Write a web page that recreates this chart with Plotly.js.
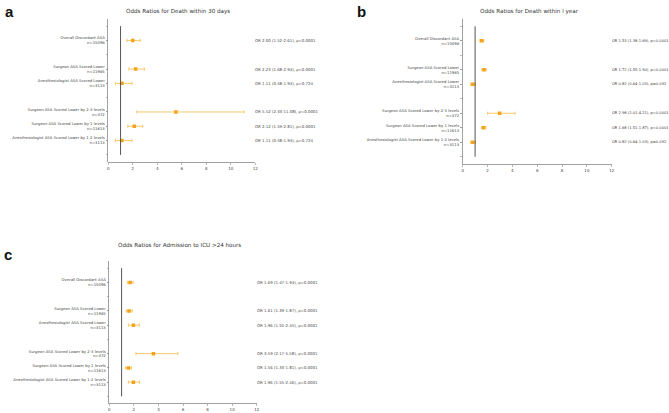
<!DOCTYPE html>
<html>
<head>
<meta charset="utf-8">
<script src="https://cdn.plot.ly/plotly-3.0.1.min.js"></script>
<style>html,body{margin:0;padding:0;background:#fff;}#chart{width:669px;height:413px;}</style>
</head>
<body>
<div id="chart"></div>
<script>
// ---- Data ----
const categories = [
  "Overall Discordant ASA",
  "Surgeon ASA Scored Lower",
  "Anesthesiologist ASA Scored Lower",
  "Surgeon ASA Scored Lower by 2-3 levels",
  "Surgeon ASA Scored Lower by 1 levels",
  "Anesthesiologist ASA Scored Lower by 1-2 levels"
];
const nCounts = [15098, 11985, 3113, 372, 11613, 3113];
// group membership of each category (groups separated by an empty row)
const groupOf = [0, 1, 1, 2, 2, 2];

const titles = [
  "Odds Ratios for Death within 30 days",
  "Odds Ratios for Death within l year",
  "Odds Ratios for Admission to ICU >24 hours"
];
const panelLetters = ["a", "b", "c"];

const orA = [2.00, 2.23, 1.11, 5.52, 2.12, 1.11];
const loA = [1.52, 1.68, 0.58, 2.33, 1.59, 0.58];
const hiA = [2.61, 2.94, 1.94, 11.08, 2.81, 1.94];
const pA  = ["<0.0001", "<0.0001", "=0.724", "<0.0001", "<0.0001", "=0.724"];

const orB = [1.53, 1.72, 0.82, 2.98, 1.68, 0.82];
const loB = [1.38, 1.55, 0.64, 2.01, 1.51, 0.64];
const hiB = [1.69, 1.90, 1.03, 4.21, 1.87, 1.03];
const pB  = ["<0.0001", "<0.0001", "=0.092", "<0.0001", "<0.0001", "=0.092"];

const orC = [1.69, 1.61, 1.96, 3.59, 1.56, 1.96];
const loC = [1.47, 1.39, 1.55, 2.17, 1.33, 1.55];
const hiC = [1.94, 1.87, 2.45, 5.58, 1.81, 2.46];
const pC  = ["<0.0001", "<0.0001", "<0.0001", "<0.0001", "<0.0001", "<0.0001"];

const xTicks = [0, 2, 4, 6, 8, 10, 12];
const refValue = 1;

// ---- Build ----
const labels = categories.map((c, i) => c + "<br>n=" + nCounts[i]);
// row index of each category: one row per item plus an empty row between groups
const rows = categories.map((c, i) => i + groupOf[i]);
const lastRow = rows[rows.length - 1];

const panels = [
  {or: orA, lo: loA, hi: hiA, p: pA, fs: 3.9, xa: "x", ya: "y", xd: [0.1619, 0.3816], yd: [0.6077, 0.954], tx: 0.266, ty: 0.973, lx: 0.004, ly: 0.997},
  {or: orB, lo: loB, hi: hiB, p: pB, fs: 3.65, xa: "x2", ya: "y2", xd: [0.6916, 0.9144], yd: [0.6029, 0.954], tx: 0.792, ty: 0.971, lx: 0.531, ly: 0.997},
  {or: orC, lo: loC, hi: hiC, p: pC, fs: 3.9, xa: "x3", ya: "y3", xd: [0.1634, 0.3837], yd: [0.023, 0.368], tx: 0.269, ty: 0.407, lx: 0.003, ly: 0.41}
];

const FONT = "DejaVu Sans, Arial, sans-serif";
const traces = [];
const shapes = [];
const annotations = [];
const layout = {
  width: 669, height: 413,
  margin: {l: 0, r: 0, t: 0, b: 0},
  paper_bgcolor: "#fff", plot_bgcolor: "#fff",
  showlegend: false,
  font: {family: FONT, size: 4, color: "#444"}
};

function esc(s) { return s.replace(/</g, "&lt;").replace(/>/g, "&gt;"); }

panels.forEach((P, k) => {
  traces.push({
    type: "scatter", mode: "markers",
    x: P.or, y: rows,
    xaxis: P.xa, yaxis: P.ya,
    marker: {color: "#f5a31a", size: 3.5, symbol: "square"},
    error_x: {type: "data", symmetric: false,
      array: P.hi.map((h, i) => h - P.or[i]),
      arrayminus: P.lo.map((l, i) => P.or[i] - l),
      color: "#f7c35a", thickness: 0.9, width: 1.6},
    hoverinfo: "skip"
  });
  const sfx = k === 0 ? "" : String(k + 1);
  layout["xaxis" + sfx] = {
    domain: P.xd, range: [0, 12], anchor: "y" + sfx,
    tickvals: xTicks, ticktext: xTicks.map(String),
    showgrid: false, zeroline: false,
    showline: true, linecolor: "#8a8a8a", linewidth: 0.8,
    ticks: "outside", ticklen: 2, tickwidth: 0.6, tickcolor: "#8a8a8a",
    tickfont: {size: 4, color: "#444", family: FONT}
  };
  layout["yaxis" + sfx] = {
    domain: P.yd, anchor: "x" + sfx,
    range: [lastRow + 1.5, -1.5],
    tickvals: rows, ticktext: labels,
    minor: {tick0: 0, dtick: 1, ticks: "outside", ticklen: 2, tickwidth: 0.6, tickcolor: "#8a8a8a", showgrid: false},
    showgrid: false, zeroline: false,
    showline: true, linecolor: "#8a8a8a", linewidth: 0.8,
    ticks: "outside", ticklen: 2, tickwidth: 0.6, tickcolor: "#8a8a8a",
    tickfont: {size: 3.8, color: "#444", family: FONT}
  };
  shapes.push({type: "line", xref: P.xa, yref: P.ya,
    x0: refValue, x1: refValue, y0: -1, y1: lastRow + 1,
    line: {color: "#555", width: 1}});
  P.or.forEach((v, i) => {
    annotations.push({
      xref: P.xa, yref: P.ya, x: 12, y: rows[i], xshift: -2,
      xanchor: "left", yanchor: "middle", showarrow: false,
      text: esc("OR " + v.toFixed(2) + " (" + P.lo[i].toFixed(2) + "-" + P.hi[i].toFixed(2) + "), p" + P.p[i]),
      font: {size: P.fs, color: "#444", family: FONT}
    });
  });
  annotations.push({xref: "paper", yref: "paper", x: P.tx, y: P.ty,
    xanchor: "center", yanchor: "middle", showarrow: false,
    text: esc(titles[k]), font: {size: 5.6, color: "#333", family: FONT}});
  annotations.push({xref: "paper", yref: "paper", x: P.lx, y: P.ly,
    xanchor: "left", yanchor: "top", showarrow: false,
    text: "<b>" + panelLetters[k] + "</b>", font: {size: 15, color: "#111", family: "Liberation Sans, Arial, sans-serif"}});
});

layout.shapes = shapes;
layout.annotations = annotations;

Plotly.newPlot("chart", traces, layout, {staticPlot: true, displayModeBar: false});
</script>
</body>
</html>
